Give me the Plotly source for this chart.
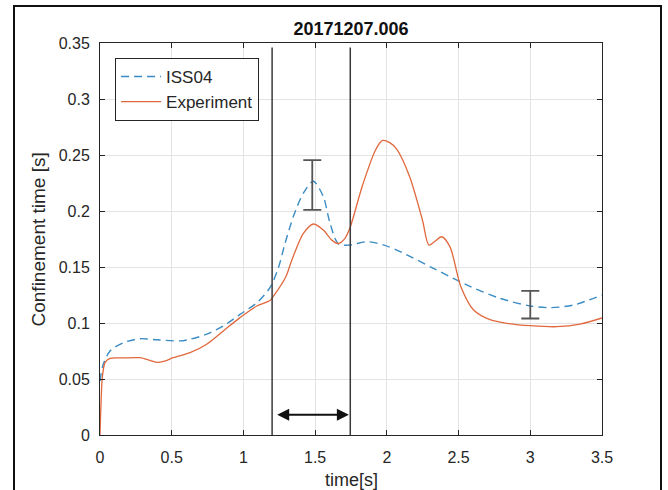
import plotly.graph_objects as go

# ---- data ----
iss_t = [0, 0.02, 0.07, 0.163, 0.279, 0.395, 0.558, 0.628, 0.744, 0.860, 0.976, 1.093, 1.185,
         1.243, 1.29, 1.348, 1.418, 1.488, 1.557, 1.604, 1.662, 1.742, 1.861, 1.98, 2.093,
         2.325, 2.557, 2.789, 3.0, 3.138, 3.30, 3.5]
iss_y = [0.048, 0.062, 0.075, 0.0824, 0.086, 0.085, 0.084, 0.0855, 0.090, 0.0973, 0.1077, 0.118, 0.1315,
         0.149, 0.171, 0.195, 0.216, 0.2265, 0.2128, 0.189, 0.1705, 0.1696, 0.1726, 0.1696, 0.1637,
         0.1488, 0.134, 0.122, 0.1152, 0.1137, 0.116, 0.125]

exp_t = [0, 0.007, 0.016, 0.035, 0.07, 0.163, 0.279, 0.35, 0.40, 0.45, 0.511, 0.628, 0.744, 0.860,
         0.976, 1.093, 1.185, 1.207, 1.296, 1.337, 1.418, 1.488, 1.557, 1.616, 1.662, 1.708, 1.743,
         1.831, 1.921, 1.97, 2.02, 2.07, 2.159, 2.248, 2.293, 2.335, 2.382, 2.44, 2.516, 2.605,
         2.724, 2.85, 3.0, 3.185, 3.347, 3.5]
exp_y = [0, 0.028, 0.051, 0.0646, 0.0685, 0.0688, 0.069, 0.0665, 0.0648, 0.066, 0.069, 0.0735, 0.081, 0.0929,
         0.1048, 0.1152, 0.120, 0.1235, 0.1413, 0.156, 0.180, 0.1884, 0.183, 0.174, 0.171, 0.1756, 0.185,
         0.2232, 0.2545, 0.263, 0.261, 0.255, 0.2306, 0.192, 0.1696, 0.173, 0.177, 0.168, 0.1324, 0.1116,
         0.1027, 0.0995, 0.0976, 0.0967, 0.099, 0.1045]

err_x = [1.48, 3.0]
err_lo = [0.201, 0.104]
err_hi = [0.2455, 0.1286]

vline_x = [1.2, 1.745]
vline_top = 0.346

arrow_y = 0.018
arrow_x0 = 1.225
arrow_x1 = 1.735

x_ticks = [0, 0.5, 1, 1.5, 2, 2.5, 3, 3.5]
x_labels = ["0", "0.5", "1", "1.5", "2", "2.5", "3", "3.5"]
y_ticks = [0, 0.05, 0.1, 0.15, 0.2, 0.25, 0.3, 0.35]
y_labels = ["0", "0.05", "0.1", "0.15", "0.2", "0.25", "0.3", "0.35"]

title = "20171207.006"
xlabel = "time[s]"
ylabel = "Confinement time [s]"

FONT = "Liberation Sans, Arial, Helvetica, sans-serif"
TXT = "#262626"

fig = go.Figure()

fig.add_trace(go.Scatter(x=iss_t, y=iss_y, mode="lines", name="ISS04",
                         line=dict(color="#3a8cc4", width=1.4, dash="8px,5px", shape="spline", smoothing=0.8)))
fig.add_trace(go.Scatter(x=exp_t, y=exp_y, mode="lines", name="Experiment",
                         line=dict(color="#e0683c", width=1.3, shape="spline", smoothing=0.8)))

for vx in vline_x:
    fig.add_trace(go.Scatter(x=[vx, vx], y=[0, vline_top], mode="lines", showlegend=False,
                             line=dict(color="#3a3a3a", width=1.5), hoverinfo="skip"))

mid = [(a + b) / 2 for a, b in zip(err_lo, err_hi)]
fig.add_trace(go.Scatter(x=err_x, y=mid, mode="markers", showlegend=False,
                         marker=dict(size=1, opacity=0),
                         error_y=dict(type="data", symmetric=False,
                                      array=[h - m for h, m in zip(err_hi, mid)],
                                      arrayminus=[m - l for m, l in zip(mid, err_lo)],
                                      color="#555555", thickness=1.8, width=9)))

fig.add_annotation(x=arrow_x1, y=arrow_y, ax=arrow_x0, ay=arrow_y, xref="x", yref="y",
                   axref="x", ayref="y", text="", showarrow=True, arrowhead=2, startarrowhead=2,
                   arrowside="end+start", arrowsize=1.2, startarrowsize=1.2, arrowwidth=2,
                   arrowcolor="#111111")

# axis titles
fig.add_annotation(text=xlabel, x=0.5, y=(435 - 480) / 392, xref="paper", yref="paper",
                   showarrow=False, yanchor="middle", font=dict(family=FONT, size=18, color=TXT))
fig.add_annotation(text=ylabel, x=(37.5 - 100) / 502, y=(435 - 240) / 392, xref="paper", yref="paper",
                   showarrow=False, textangle=-90, xanchor="center", yanchor="middle",
                   font=dict(family=FONT, size=19, color=TXT))

# outer frame (pixel-sized, anchored at the plot's top-left corner)
fig.add_shape(type="rect", xref="paper", yref="paper",
              xsizemode="pixel", xanchor=0, x0=-86, x1=561,
              ysizemode="pixel", yanchor=1, y0=37, y1=-470,
              line=dict(color="#111111", width=2), fillcolor="rgba(0,0,0,0)", layer="above")

axis_common = dict(showline=True, linecolor=TXT, linewidth=1, mirror="ticks", ticks="inside",
                   ticklen=5, tickcolor=TXT, tickwidth=1, showgrid=True, gridcolor="#e3e3e3",
                   gridwidth=1, zeroline=False, tickfont=dict(family=FONT, size=16, color=TXT))

fig.update_xaxes(range=[0, 3.5], tickvals=x_ticks, ticktext=x_labels, ticklabelstandoff=8, **axis_common)
fig.update_yaxes(range=[0, 0.35], tickvals=y_ticks, ticktext=y_labels, ticklabelstandoff=6, **axis_common)

fig.update_layout(
    width=668, height=490,
    margin=dict(l=100, r=66, t=43, b=55),
    paper_bgcolor="white", plot_bgcolor="white",
    title=dict(text="<b>" + title + "</b>", x=(351) / 668, xanchor="center", y=1 - 29 / 490,
               yanchor="middle", font=dict(family=FONT, size=18, color="#111111")),
    legend=dict(x=0.03, y=0.962, xanchor="left", yanchor="top", bgcolor="white",
                bordercolor=TXT, borderwidth=1, font=dict(family=FONT, size=17, color=TXT),
                tracegroupgap=0, itemwidth=40),
    showlegend=True,
)

fig.write_html("out.html")
